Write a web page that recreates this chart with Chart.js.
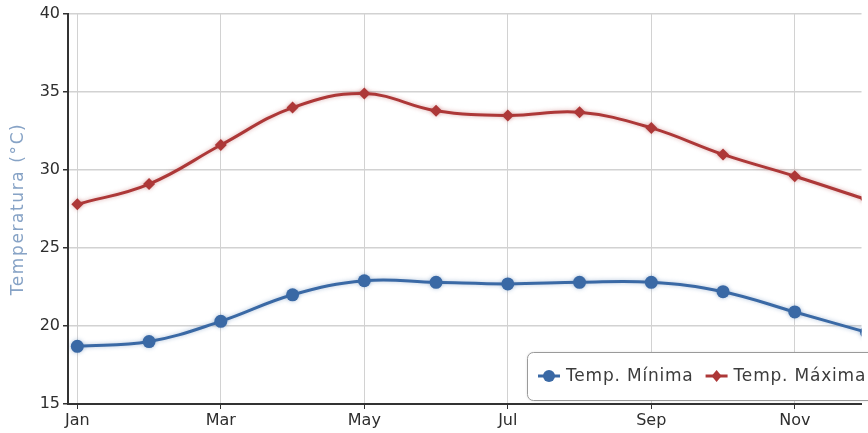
<!DOCTYPE html>
<html>
<head>
<meta charset="utf-8">
<script src="https://cdn.jsdelivr.net/npm/chart.js@4.4.1/dist/chart.umd.min.js"></script>
<style>
  html, body { margin: 0; padding: 0; background: #fff; }
  #wrap { width: 868px; height: 433px; }
</style>
</head>
<body>
<div id="wrap"><canvas id="chart"></canvas></div>
<script>
const months = ['Jan', 'Feb', 'Mar', 'Apr', 'May', 'Jun', 'Jul', 'Aug', 'Sep', 'Oct', 'Nov', 'Dec'];
const tempMin = [18.7, 19.0, 20.3, 22.0, 22.9, 22.8, 22.7, 22.8, 22.8, 22.2, 20.9, 19.6];
const tempMax = [27.8, 29.1, 31.6, 34.0, 34.9, 33.8, 33.5, 33.7, 32.7, 31.0, 29.6, 28.1];
const yTicks = [15, 20, 25, 30, 35, 40];
const seriesNames = ['Temp. Mínima', 'Temp. Máxima'];
const yTitle = 'Temperatura (°C)';

const blue = '#3a69a5';
const red = '#ad3838';

function toPoints(arr) {
  return arr.map((v, i) => ({ x: i, y: v }));
}

// soft glow under the lines
const glow = {
  id: 'glow',
  beforeDatasetDraw(chart, args) {
    const ctx = chart.ctx;
    ctx.save();
    ctx.shadowColor = args.index === 0 ? 'rgba(58,105,165,0.4)' : 'rgba(173,56,56,0.4)';
    ctx.shadowBlur = 4;
  },
  afterDatasetDraw(chart) {
    chart.ctx.restore();
  }
};

// rotated y title, drawn by hand so it can be letter-spaced like the original
const yTitlePlugin = {
  id: 'yTitlePlugin',
  afterDraw(chart) {
    const ctx = chart.ctx;
    const area = chart.chartArea;
    ctx.save();
    ctx.translate(19, (area.top + area.bottom) / 2);
    ctx.rotate(-Math.PI / 2);
    ctx.font = '17px "DejaVu Sans"';
    ctx.letterSpacing = '1.6px';
    ctx.fillStyle = '#87a3c6';
    ctx.textAlign = 'center';
    ctx.textBaseline = 'middle';
    ctx.fillText(yTitle, 0, 0);
    ctx.restore();
  }
};

// legend box sitting inside the plot, bottom right
const boxLegend = {
  id: 'boxLegend',
  afterDraw(chart) {
    const ctx = chart.ctx;
    const x = 527, y = 352, w = 360, h = 48;
    ctx.save();
    ctx.shadowColor = 'rgba(0,0,0,0.15)';
    ctx.shadowBlur = 3;
    ctx.fillStyle = '#fff';
    ctx.strokeStyle = '#9a9a9a';
    ctx.lineWidth = 1;
    ctx.beginPath();
    ctx.roundRect(x + 0.5, y + 0.5, w, h, 6);
    ctx.fill();
    ctx.shadowColor = 'transparent';
    ctx.stroke();

    ctx.font = '17px "DejaVu Sans"';
    ctx.letterSpacing = '0.8px';
    ctx.textBaseline = 'middle';
    const cy = y + h / 2;
    let cx = x + 11;
    chart.data.datasets.forEach((ds, i) => {
      ctx.strokeStyle = ds.borderColor;
      ctx.fillStyle = ds.borderColor;
      ctx.lineWidth = 3;
      ctx.beginPath();
      ctx.moveTo(cx, cy);
      ctx.lineTo(cx + 22, cy);
      ctx.stroke();
      ctx.beginPath();
      if (i === 0) {
        ctx.arc(cx + 11, cy, 6, 0, Math.PI * 2);
      } else {
        ctx.moveTo(cx + 11, cy - 6);
        ctx.lineTo(cx + 16, cy);
        ctx.lineTo(cx + 11, cy + 6);
        ctx.lineTo(cx + 6, cy);
        ctx.closePath();
      }
      ctx.fill();
      ctx.fillStyle = '#3c3c3c';
      ctx.fillText(ds.label, cx + 28, cy + 1);
      cx += 28 + ctx.measureText(ds.label).width + 12;
    });
    ctx.restore();
  }
};

new Chart(document.getElementById('chart'), {
  type: 'line',
  data: {
    datasets: [
      {
        label: seriesNames[0],
        data: toPoints(tempMin),
        borderColor: blue,
        backgroundColor: blue,
        borderWidth: 3,
        tension: 0.4,
        pointStyle: 'circle',
        pointRadius: 6.5,
        pointBorderWidth: 0
      },
      {
        label: seriesNames[1],
        data: toPoints(tempMax),
        borderColor: red,
        backgroundColor: red,
        borderWidth: 3,
        tension: 0.4,
        pointStyle: 'rectRot',
        pointRadius: 6,
        pointBorderWidth: 0
      }
    ]
  },
  options: {
    responsive: true,
    maintainAspectRatio: false,
    animation: false,
    layout: { padding: { top: 14, right: 0, left: 0, bottom: 0 } },
    plugins: {
      legend: { display: false },
      tooltip: { enabled: false }
    },
    scales: {
      x: {
        type: 'linear',
        min: -0.13,
        max: 10.93,
        afterFit(scale) { scale.height = 29; },
        border: { color: '#333', width: 2 },
        grid: { color: '#d2d2d2', tickColor: '#333', tickLength: 5, lineWidth: 1 },
        ticks: {
          stepSize: 2,
          includeBounds: false,
          autoSkip: false,
          maxRotation: 0,
          color: '#2e2e2e',
          padding: 2,
          font: { family: 'DejaVu Sans', size: 16 },
          callback: v => months[v]
        }
      },
      y: {
        min: yTicks[0],
        max: yTicks[yTicks.length - 1],
        afterFit(scale) { scale.width = 68; },
        afterBuildTicks(scale) { scale.ticks = yTicks.map(v => ({ value: v })); },
        border: { color: '#333', width: 2 },
        grid: { color: '#d2d2d2', tickColor: '#333', tickLength: 5, lineWidth: 1.5 },
        ticks: {
          color: '#2e2e2e',
          padding: 3,
          font: { family: 'DejaVu Sans', size: 16 }
        }
      }
    }
  },
  plugins: [glow, yTitlePlugin, boxLegend]
});
</script>
</body>
</html>
